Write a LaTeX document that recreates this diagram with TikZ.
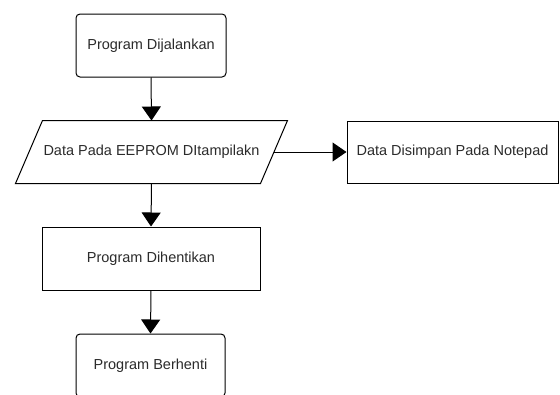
\documentclass[tikz,border=0pt]{standalone}
\usepackage{fontspec}
\setmainfont{Liberation Sans}
\usetikzlibrary{arrows.meta}
\definecolor{txt}{HTML}{2B2B2B}
\tikzset{
  base/.style={line width=1pt, text=txt, font=\fontsize{14.5}{16}\selectfont, inner sep=0pt},
  roundbox/.style={base, draw=black, rectangle, rounded corners=4pt, minimum width=150pt, minimum height=63pt},
  plainbox/.style={base, draw=black, rectangle, minimum height=62pt},
  iobox/.style={base, rectangle, minimum width=244pt, minimum height=62pt},
  slantline/.style={draw=black, line width=1pt, line join=miter},
  tipshape/.tip={Triangle[width=19pt,length=14pt]},
  flow/.style={draw=black, line width=1pt, -tipshape}
}
\begin{document}
\begin{tikzpicture}[x=1pt,y=-1pt]
\useasboundingbox (0,0) rectangle (560,394);
\clip (0,0) rectangle (560,394);
\fill[white] (0,0) rectangle (560,394);
\node[roundbox] (start) at (151,45.5) {Program Dijalankan};
\node[iobox] (show) at (151.5,152) {Data Pada EEPROM DItampilakn};
\draw[slantline] ([xshift=-13.5pt]show.south west) -- ([xshift=13.5pt]show.north west)
  -- ([xshift=13.5pt]show.north east) -- ([xshift=-13.5pt]show.south east) -- cycle;
\node[plainbox, minimum width=211pt] (save) at (452.5,152) {Data Disimpan Pada Notepad};
\node[plainbox, minimum width=218pt, minimum height=63pt] (stopc) at (151,258.5) {Program Dihentikan};
\node[roundbox, minimum width=149pt] (end) at (150.5,365.5) {Program Berhenti};
\draw[flow] (start.south) -- (show.north);
\draw[flow] (show.east) -- (save.west);
\draw[flow] (show.south) -- (stopc.north);
\draw[flow] (stopc.south) -- (end.north);
\end{tikzpicture}
\end{document}
